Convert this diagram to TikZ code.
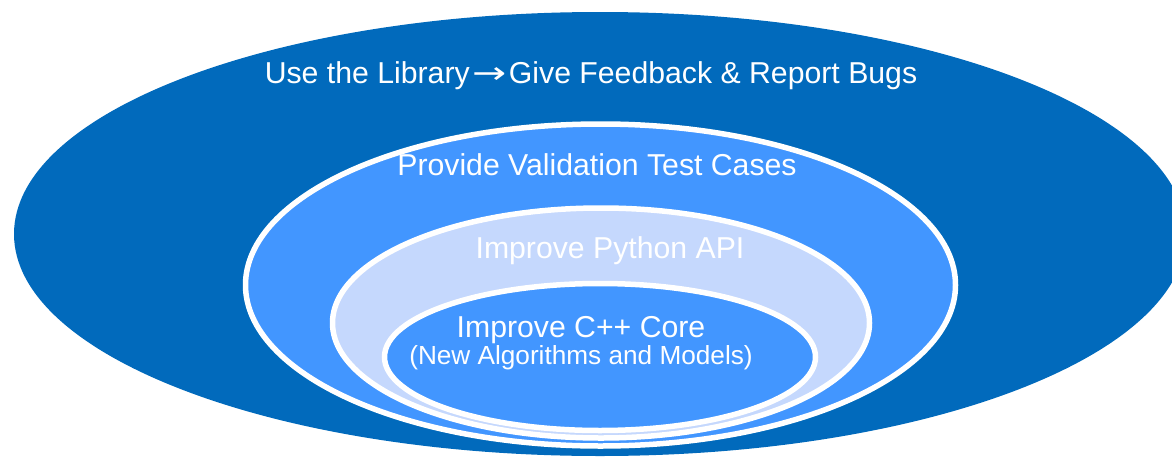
\documentclass[tikz,border=0pt]{standalone}
\usepackage{fontspec}
\setmainfont{Liberation Sans}
\newfontfamily\arrowfont{DejaVu Sans}
\definecolor{outerblue}{RGB}{1, 106, 188}
\definecolor{midblue}{RGB}{66, 150, 255}
\definecolor{paleblue}{RGB}{197, 216, 253}
\usetikzlibrary{positioning}

\begin{document}
\begin{tikzpicture}[x=0.2mm, y=-0.2mm,
        ring/.style={draw=white, line width=1.1mm},
        ringtext/.style={text=white, inner sep=0pt, anchor=base, font=\fontsize{17.2}{20}\selectfont},
        subtext/.style={ringtext, font=\fontsize{14.9}{18}\selectfont}
    ]
        \useasboundingbox (0,0) rectangle (1172,458);
        % nested rings, outermost first
        \fill[outerblue] (600,234) ellipse [x radius=586, y radius=222];
        \filldraw[ring, fill=midblue] (600.5,285) ellipse [x radius=355, y radius=161];
        \filldraw[ring, fill=paleblue] (601,323) ellipse [x radius=268.5, y radius=115];
        \filldraw[ring, fill=midblue] (600,357) ellipse [x radius=215.5, y radius=73.5];
        \node[ringtext] (use) at (591,83) {Use the Library\kern0.5mm{\arrowfont\scalebox{1.35}[1]{→}}\kern0.5mm Give Feedback \& Report Bugs};
        \node[ringtext] (tests) at (597,175) {Provide Validation Test Cases};
        \node[ringtext] (python) at (610,258) {Improve Python API};
        \node[ringtext] (core) at (581,337) {Improve C++ Core};
        \node[subtext, below=5.4mm of core.base, anchor=base] (algos) {(New Algorithms and Models)};
    \end{tikzpicture}
\end{document}
